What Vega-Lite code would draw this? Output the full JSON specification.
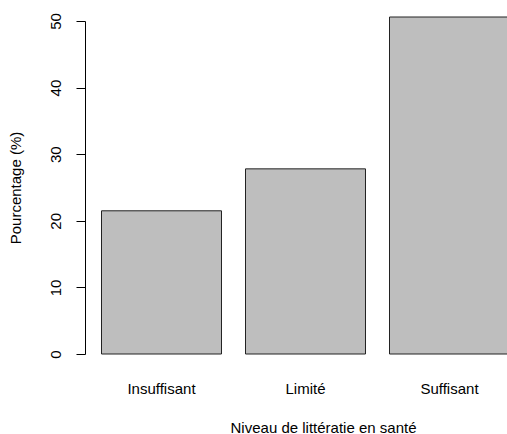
{
  "$schema": "https://vega.github.io/schema/vega-lite/v6.json",
  "autosize": "none",
  "width": 422,
  "height": 333,
  "padding": {"left": 85, "top": 21, "right": 0, "bottom": 80},
  "background": "white",
  "config": {
    "view": {"stroke": null},
    "font": "Liberation Sans",
    "axis": {"grid": false, "labelColor": "#000", "titleColor": "#000", "domainColor": "#000", "tickColor": "#000", "labelFont": "Liberation Sans", "titleFont": "Liberation Sans", "titleFontWeight": "normal"}
  },
  "data": {
    "values": [
      {"niveau": "Insuffisant", "pct": 21.5},
      {"niveau": "Limité", "pct": 27.8},
      {"niveau": "Suffisant", "pct": 50.6}
    ]
  },
  "mark": {"type": "bar", "fill": "#bebebe", "stroke": "#222", "strokeWidth": 1, "clip": false},
  "encoding": {
    "x": {
      "field": "niveau",
      "type": "nominal",
      "sort": null,
      "scale": {"type": "band", "range": [0, 441], "paddingInner": 0.1667, "paddingOuter": 0.1146},
      "axis": {
        "title": "Niveau de littératie en santé",
        "labelAngle": 0,
        "domain": false,
        "ticks": false,
        "labelPadding": 27,
        "labelFontSize": 15,
        "titleFontSize": 15,
        "titlePadding": 24,
        "titleX": 238
      }
    },
    "y": {
      "field": "pct",
      "type": "quantitative",
      "scale": {"domain": [0, 50], "nice": false, "zero": true},
      "axis": {
        "title": "Pourcentage (%)",
        "values": [0, 10, 20, 30, 40, 50],
        "tickSize": 9,
        "labelAngle": -90,
        "labelAlign": "center",
        "labelBaseline": "bottom",
        "labelPadding": 13,
        "labelFontSize": 15,
        "titleFontSize": 15,
        "titlePadding": 25
      }
    }
  }
}
